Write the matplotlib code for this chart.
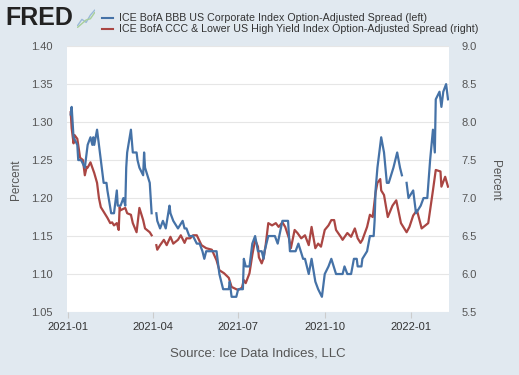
import matplotlib
matplotlib.use("Agg")
import matplotlib.pyplot as plt
import matplotlib.dates as mdates
import numpy as np
import pandas as pd

plt.rcParams["font.family"] = ["Liberation Sans", "DejaVu Sans"]

# ICE BofA BBB US Corporate Index OAS (left axis)
bbb_dates = [
    "2021-01-04", "2021-01-05", "2021-01-06", "2021-01-07", "2021-01-11", "2021-01-12",
    "2021-01-15", "2021-01-19", "2021-01-21", "2021-01-22", "2021-01-25", "2021-01-27",
    "2021-01-28", "2021-01-29", "2021-02-01", "2021-02-03", "2021-02-05", "2021-02-08",
    "2021-02-11", "2021-02-12", "2021-02-16", "2021-02-19", "2021-02-22", "2021-02-23",
    "2021-02-26", "2021-03-01", "2021-03-03", "2021-03-04", "2021-03-05", "2021-03-09",
    "2021-03-11", "2021-03-15", "2021-03-16", "2021-03-18", "2021-03-22", "2021-03-23",
    "2021-03-24", "2021-03-29", "2021-03-31", "2021-04-02", "2021-04-05", "2021-04-06",
    "2021-04-09", "2021-04-12", "2021-04-15", "2021-04-19", "2021-04-20", "2021-04-23",
    "2021-04-28", "2021-05-03", "2021-05-05", "2021-05-07", "2021-05-10", "2021-05-14",
    "2021-05-18", "2021-05-21", "2021-05-24", "2021-05-26", "2021-05-28", "2021-06-03",
    "2021-06-08", "2021-06-11", "2021-06-15", "2021-06-21", "2021-06-22", "2021-06-24",
    "2021-06-29", "2021-07-01", "2021-07-06", "2021-07-07", "2021-07-09", "2021-07-13",
    "2021-07-16", "2021-07-19", "2021-07-22", "2021-07-26", "2021-07-28", "2021-07-29",
    "2021-08-02", "2021-08-05", "2021-08-09", "2021-08-12", "2021-08-17", "2021-08-23",
    "2021-08-25", "2021-08-31", "2021-09-03", "2021-09-08", "2021-09-10", "2021-09-14",
    "2021-09-17", "2021-09-21", "2021-09-24", "2021-09-28", "2021-10-01", "2021-10-05",
    "2021-10-08", "2021-10-13", "2021-10-20", "2021-10-22", "2021-10-25", "2021-10-29",
    "2021-11-01", "2021-11-04", "2021-11-05", "2021-11-09", "2021-11-10", "2021-11-15",
    "2021-11-18", "2021-11-22", "2021-11-23", "2021-11-24", "2021-11-26", "2021-11-30",
    "2021-12-03", "2021-12-06", "2021-12-08", "2021-12-13", "2021-12-17", "2021-12-20",
    "2021-12-22", "2021-12-24", "2021-12-27", "2021-12-29", "2022-01-03", "2022-01-06",
    "2022-01-11", "2022-01-14", "2022-01-18", "2022-01-21", "2022-01-24", "2022-01-26",
    "2022-01-27", "2022-01-31", "2022-02-02", "2022-02-04", "2022-02-07", "2022-02-09",
]
bbb_values = [
    1.31, 1.32, 1.30, 1.28, 1.27, 1.25,
    1.25, 1.24, 1.26, 1.27, 1.28, 1.27,
    1.28, 1.27, 1.29, 1.27, 1.25, 1.22,
    1.22, 1.21, 1.18, 1.18, 1.21, 1.19,
    1.19, 1.20, 1.19, 1.24, 1.26, 1.29,
    1.26, 1.26, 1.25, 1.24, 1.23, 1.26,
    1.24, 1.22, 1.18, np.nan, 1.18, 1.17,
    1.16, 1.17, 1.16, 1.19, 1.18, 1.17,
    1.16, 1.17, 1.16, 1.16, 1.15, 1.15,
    1.14, 1.14, 1.13, 1.12, 1.13, 1.13,
    1.13, 1.10, 1.08, 1.08, 1.09, 1.07,
    1.07, 1.08, 1.08, 1.12, 1.11, 1.11,
    1.14, 1.15, 1.13, 1.13, 1.12, 1.13,
    1.15, 1.15, 1.15, 1.14, 1.17, 1.17,
    1.13, 1.13, 1.14, 1.12, 1.12, 1.10,
    1.12, 1.09, 1.08, 1.07, 1.10, 1.11,
    1.12, 1.10, 1.10, 1.11, 1.10, 1.10,
    1.12, 1.12, 1.11, 1.11, 1.12, 1.13,
    1.15, 1.15, 1.17, 1.21, 1.24, 1.28,
    1.26, 1.22, 1.22, 1.24, 1.26, 1.24,
    1.23, np.nan, 1.22, 1.20, 1.21, 1.18,
    1.19, 1.20, 1.20, 1.25, 1.29, 1.26,
    1.33, 1.34, 1.32, 1.34, 1.35, 1.33,
]

# ICE BofA CCC & Lower US High Yield Index OAS (right axis)
ccc_dates = [
    "2021-01-04", "2021-01-05", "2021-01-07", "2021-01-08", "2021-01-11", "2021-01-14",
    "2021-01-17", "2021-01-19", "2021-01-21", "2021-01-22", "2021-01-25", "2021-01-27",
    "2021-01-29", "2021-02-01", "2021-02-03", "2021-02-05", "2021-02-08", "2021-02-10",
    "2021-02-12", "2021-02-15", "2021-02-17", "2021-02-19", "2021-02-22", "2021-02-24",
    "2021-02-25", "2021-02-26", "2021-03-03", "2021-03-05", "2021-03-09", "2021-03-11",
    "2021-03-15", "2021-03-18", "2021-03-22", "2021-03-24", "2021-03-29", "2021-03-31",
    "2021-04-02", "2021-04-05", "2021-04-06", "2021-04-09", "2021-04-13", "2021-04-16",
    "2021-04-20", "2021-04-23", "2021-04-28", "2021-05-01", "2021-05-05", "2021-05-07",
    "2021-05-11", "2021-05-14", "2021-05-18", "2021-05-23", "2021-05-28", "2021-06-03",
    "2021-06-08", "2021-06-11", "2021-06-16", "2021-06-21", "2021-06-24", "2021-06-29",
    "2021-07-01", "2021-07-05", "2021-07-07", "2021-07-09", "2021-07-13", "2021-07-16",
    "2021-07-19", "2021-07-22", "2021-07-23", "2021-07-26", "2021-07-28", "2021-07-30",
    "2021-08-02", "2021-08-06", "2021-08-10", "2021-08-13", "2021-08-17", "2021-08-20",
    "2021-08-24", "2021-08-26", "2021-08-30", "2021-09-02", "2021-09-06", "2021-09-10",
    "2021-09-14", "2021-09-17", "2021-09-21", "2021-09-24", "2021-09-27", "2021-10-01",
    "2021-10-05", "2021-10-08", "2021-10-11", "2021-10-13", "2021-10-18", "2021-10-20",
    "2021-10-25", "2021-10-29", "2021-11-02", "2021-11-05", "2021-11-08", "2021-11-10",
    "2021-11-15", "2021-11-18", "2021-11-21", "2021-11-24", "2021-11-26", "2021-11-29",
    "2021-11-30", "2021-12-03", "2021-12-07", "2021-12-12", "2021-12-16", "2021-12-21",
    "2021-12-27", "2021-12-30", "2022-01-03", "2022-01-07", "2022-01-12", "2022-01-19",
    "2022-01-24", "2022-01-27", "2022-02-01", "2022-02-02", "2022-02-06", "2022-02-09",
]
ccc_values = [
    8.13, 7.92, 7.72, 7.83, 7.78, 7.53,
    7.50, 7.30, 7.41, 7.40, 7.47, 7.40,
    7.33, 7.20, 7.00, 6.88, 6.82, 6.78,
    6.74, 6.67, 6.68, 6.64, 6.67, 6.58,
    6.88, 6.84, 6.87, 6.80, 6.78, 6.67,
    6.55, 6.87, 6.71, 6.60, 6.55, 6.51,
    np.nan, 6.38, 6.32, 6.38, 6.45, 6.38,
    6.49, 6.40, 6.45, 6.51, 6.41, 6.47,
    6.47, 6.51, 6.51, 6.38, 6.34, 6.32,
    6.18, 6.05, 6.01, 5.95, 5.83, 5.80,
    5.79, 5.82, 5.92, 5.88, 6.01, 6.25,
    6.45, 6.36, 6.22, 6.14, 6.21, 6.36,
    6.67, 6.64, 6.67, 6.62, 6.68, 6.62,
    6.47, 6.34, 6.58, 6.54, 6.47, 6.51,
    6.38, 6.62, 6.34, 6.40, 6.36, 6.58,
    6.64, 6.71, 6.71, 6.58, 6.49, 6.45,
    6.54, 6.49, 6.60, 6.47, 6.41, 6.45,
    6.62, 6.78, 6.75, 7.07, 7.20, 7.25,
    7.10, 7.04, 6.75, 6.90, 6.97, 6.67,
    6.55, 6.62, 6.77, 6.84, 6.60, 6.67,
    7.10, 7.37, 7.35, 7.15, 7.28, 7.15,
]

left_ticks = [1.05, 1.10, 1.15, 1.20, 1.25, 1.30, 1.35, 1.40]
right_ticks = [5.5, 6.0, 6.5, 7.0, 7.5, 8.0, 8.5, 9.0]
x_ticks = ["2021-01-01", "2021-04-01", "2021-07-01", "2021-10-01", "2022-01-01"]

BG = "#e1e9f0"
BLUE = "#4572a7"
RED = "#aa4643"
TXT = "#555555"

fig = plt.figure(figsize=(5.19, 3.75), dpi=100, facecolor=BG)
ax = fig.add_axes([0.129, 0.168, 0.736, 0.709])
ax2 = ax.twinx()

ax.plot(pd.to_datetime(bbb_dates), bbb_values, color=BLUE, lw=1.6)
ax2.plot(pd.to_datetime(ccc_dates), ccc_values, color=RED, lw=1.6)
# left axis drawn on top, white panel comes from the twin underneath
ax.set_zorder(ax2.get_zorder() + 1)
ax.patch.set_visible(False)
ax2.patch.set_visible(True)
ax2.patch.set_facecolor("white")

ax.set_ylim(1.05, 1.40)
ax.set_yticks(left_ticks)
ax.set_yticklabels([f"{v:.2f}" for v in left_ticks])
ax2.set_ylim(5.5, 9.0)
ax2.set_yticks(right_ticks)
ax2.set_yticklabels([f"{v:.1f}" for v in right_ticks])
ax.set_xlim(pd.Timestamp("2020-12-31"), pd.Timestamp("2022-02-10"))
ax.set_xticks(pd.to_datetime(x_ticks))
ax.xaxis.set_major_formatter(mdates.DateFormatter("%Y-%m"))

for a in (ax, ax2):
    for s in a.spines.values():
        s.set_visible(False)
ax2.grid(axis="y", color="#e6e6e6", lw=0.8)
ax2.set_axisbelow(True)

ax.tick_params(axis="y", length=0, pad=10, labelsize=8, labelcolor=TXT)
ax2.tick_params(axis="y", length=0, pad=9, labelsize=8, labelcolor=TXT)
ax.tick_params(axis="x", length=4, color="#cccccc", width=0.8, pad=3,
               labelsize=8, labelcolor="#333333")

fig.text(0.031, 0.52, "Percent", fontsize=8.5, color=TXT, rotation=90,
         ha="center", va="center")
fig.text(0.954, 0.52, "Percent", fontsize=8.5, color=TXT, rotation=270,
         ha="center", va="center")

# header: logo and legend
fig.text(0.010, 0.952, "FRED", fontsize=18, fontweight="bold", color="#222222",
         va="center", ha="left")
icon = fig.add_axes([0.148, 0.925, 0.036, 0.05])
icon.plot([0, 1, 2, 3, 4], [0.5, 1.5, 1.0, 2.2, 3.0], color="#9ab9d8", lw=1)
icon.plot([0, 1, 2, 3, 4], [0.2, 0.8, 1.4, 1.6, 2.6], color="#a8cf9a", lw=1)
icon.axis("off")

legend_rows = [
    ("ICE BofA BBB US Corporate Index Option-Adjusted Spread (left)", BLUE, 0.952),
    ("ICE BofA CCC & Lower US High Yield Index Option-Adjusted Spread (right)", RED, 0.922),
]
for label, color, y in legend_rows:
    fig.add_artist(plt.Line2D([0.197, 0.218], [y, y], color=color, lw=1.5,
                              transform=fig.transFigure))
    fig.text(0.229, y, label, fontsize=7.65, color="#333333", va="center", ha="left")

fig.text(0.497, 0.056, "Source: Ice Data Indices, LLC", fontsize=9.5, color=TXT,
         ha="center", va="center")

fig.savefig("out.png", dpi=100, facecolor=BG)
